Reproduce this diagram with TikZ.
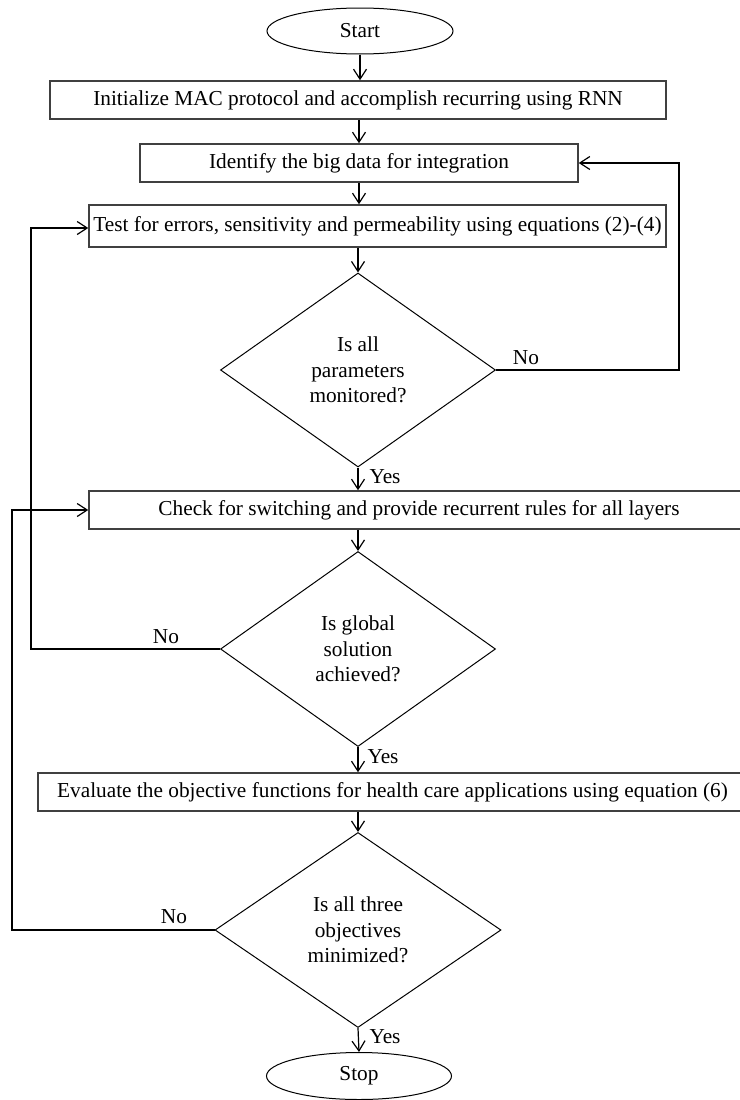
\documentclass[tikz,border=0pt]{standalone}
\usepackage{fontspec}
\setmainfont{Liberation Serif}
\usepackage{tikz}
\usetikzlibrary{arrows.meta}
\usetikzlibrary{shapes.geometric,positioning}
\tikzset{>={Straight Barb[length=10pt,width=13pt]},
  procbox/.style={draw=black!75,line width=1.5pt,rectangle,inner sep=0pt,minimum height=38pt},
  decision/.style={draw,line width=1pt,diamond,aspect=1.4,inner sep=0pt,align=center},
  terminal/.style={draw,line width=1pt,ellipse,inner sep=0pt},
  flowline/.style={line width=1.2pt,->},
  lbl/.style={inner sep=0pt}}

\begin{document}
\begin{tikzpicture}[x=1pt,y=-1pt,font=\fontsize{21.3}{25.7}\selectfont]

  \useasboundingbox (0,0) rectangle (739,1100);

  \node [terminal,minimum width=186pt,minimum height=46pt] (start) at (360,31) {Start};
  \node [procbox,minimum width=616pt] (init) at (358,100)
    {Initialize MAC protocol and accomplish recurring using RNN};
  \node [procbox,minimum width=438pt] (ident) at (359,163)
    {Identify the big data for integration};
  \node [procbox,minimum width=577pt,minimum height=42pt] (test) at (377.5,226)
    {Test for errors, sensitivity and permeability using equations (2)-(4)};
  \node [decision,minimum width=275pt,minimum height=194pt] (monit) at (358,370)
    {Is all\\parameters\\monitored?};
  \node [procbox,minimum width=660pt] (check) at (419,510)
    {Check for switching and provide recurrent rules for all layers};
  \node [decision,minimum width=275pt,minimum height=195pt] (global) at (358,649)
    {Is global\\solution\\achieved?};
  \node [procbox,minimum width=709pt] (eval) at (392.5,792)
    {Evaluate the objective functions for health care applications using equation (6)};
  \node [decision,minimum width=286pt,minimum height=195pt] (minim) at (358,930)
    {Is all three\\objectives\\minimized?};
  \node [terminal,minimum width=185pt,minimum height=47pt] (stop) at (359,1076) {Stop};

  %% corners of the loops
  \coordinate (rloop) at (679,163);
  \coordinate (lloop) at (31,228);
  \coordinate (oloop) at (12,510);

  \draw [flowline] (start.south) -- (start.south |- init.north);
  \draw [flowline] (init.south -| ident.north) -- (ident.north);
  \draw [flowline] (ident.south) -- (ident.south |- test.north);
  \draw [flowline] (monit.north |- test.south) -- (monit.north);
  \draw [flowline] (monit.south) -- (monit.south |- check.north);
  \draw [flowline] (global.north |- check.south) -- (global.north);
  \draw [flowline] (global.south) -- (global.south |- eval.north);
  \draw [flowline] (minim.north |- eval.south) -- (minim.north);
  \draw [flowline] (minim.south) -- (stop.north);

  \draw [flowline] (monit.east) -| (rloop) -- (ident.east);
  \draw [flowline] (global.west) -| (lloop) -- (lloop -| test.west);
  \draw [flowline] (minim.west) -| (oloop) -- (check.west);

  \node [lbl] (no1) at (526,358) {No};
  \node [lbl] (yes1) at (385,477) {Yes};
  \node [lbl] (no2) at (166,637) {No};
  \node [lbl] (yes2) at (383,757) {Yes};
  \node [lbl] (no3) at (174,917) {No};
  \node [lbl] (yes3) at (385,1037) {Yes};

\end{tikzpicture}
\end{document}
